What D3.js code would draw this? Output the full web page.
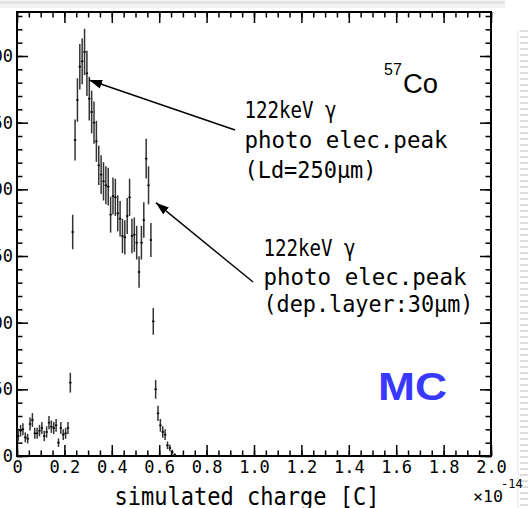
<!DOCTYPE html>
<html>
<head>
<meta charset="utf-8">
<script src="https://cdn.jsdelivr.net/npm/d3@7"></script>
<style>
  body { margin: 0; background: #fff; }
  svg { display: block; }
  .mono { font-family: "DejaVu Sans Mono", monospace; }
  .sans { font-family: "Liberation Sans", Arial, sans-serif; }
</style>
</head>
<body>
<div id="chart"></div>
<script>
// histogram contents, bins of 0.01 (x10^-14 C) starting at 0
const binWidth = 0.01;
const counts = [
  15, 19, 20, 14, 13, 24, 27, 17, 17, 19,
  21, 15, 18, 25, 22, 21, 23, 10, 21, 16,
  17, 21, 55, 168, 237, 267, 292, 296, 303, 287,
  268, 258, 250, 236, 218, 211, 206, 203, 202, 181,
  195, 194, 182, 178, 165, 164, 180, 194, 165, 166,
  160, 138, 160, 177, 223, 203, 162, 101, 50, 32,
  23, 18, 16, 8, 6, 3, 1
];

const xTickValues = [0, 0.2, 0.4, 0.6, 0.8, 1.0, 1.2, 1.4, 1.6, 1.8, 2.0];
const xTickLabels = ["0", "0.2", "0.4", "0.6", "0.8", "1.0", "1.2", "1.4", "1.6", "1.8", "2.0"];
const yTickValues = [0, 50, 100, 150, 200, 250, 300];
const yTickLabels = ["0", "50", "100", "150", "200", "250", "300"];

const width = 528;
const height = 508;

const x = d3.scaleLinear().domain([0, 2.0]).range([17, 491]);
const y = d3.scaleLinear().domain([0, 333]).range([456, 12]);

const svg = d3.select("#chart")
  .append("svg")
  .attr("width", width)
  .attr("height", height);

// slide edges seen around the picture
svg.append("rect").attr("x", 0).attr("y", 0).attr("width", 505).attr("height", 8).attr("fill", "#f2f2f2");
svg.append("line").attr("x1", 0).attr("x2", 505).attr("y1", 2.5).attr("y2", 2.5)
  .attr("stroke", "#dcdcdc").attr("stroke-width", 2);
svg.append("line").attr("x1", 518).attr("x2", 518).attr("y1", 30).attr("y2", 508)
  .attr("stroke", "#e6e6e6").attr("stroke-width", 1);
svg.append("line").attr("x1", 524).attr("x2", 524).attr("y1", 30).attr("y2", 508)
  .attr("stroke", "#dedede").attr("stroke-width", 8).attr("stroke-dasharray", "2,4");

// ticks on all four sides
const xMinor = d3.range(0, 2.0001, 0.05);
const yMinor = d3.range(0, 333, 10);

function tickAxis(axis, tf, size) {
  const g = svg.append("g").attr("transform", tf).call(axis.tickSize(size).tickFormat("").tickSizeOuter(0));
  g.select(".domain").remove();
  g.selectAll("line").attr("stroke", "#000").attr("stroke-width", 1.5);
  return g;
}
tickAxis(d3.axisTop(x).tickValues(xTickValues), `translate(0,${y(0)})`, 11);
tickAxis(d3.axisTop(x).tickValues(xMinor), `translate(0,${y(0)})`, 5.5);
tickAxis(d3.axisBottom(x).tickValues(xTickValues), `translate(0,${y.range()[1]})`, 11);
tickAxis(d3.axisBottom(x).tickValues(xMinor), `translate(0,${y.range()[1]})`, 5.5);
tickAxis(d3.axisRight(y).tickValues(yTickValues), `translate(${x(0)},0)`, 11);
tickAxis(d3.axisRight(y).tickValues(yMinor), `translate(${x(0)},0)`, 5.5);
tickAxis(d3.axisLeft(y).tickValues(yTickValues), `translate(${x(2.0)},0)`, 11);
tickAxis(d3.axisLeft(y).tickValues(yMinor), `translate(${x(2.0)},0)`, 5.5);

// tick labels (the left ones are cut by the picture edge, as in the original)
const xLab = svg.append("g")
  .attr("transform", `translate(0,${y(0)})`)
  .call(d3.axisBottom(x).tickValues(xTickValues).tickSize(0).tickPadding(5)
    .tickFormat((d, i) => xTickLabels[i]));
xLab.select(".domain").remove();
xLab.selectAll("text").attr("class", "mono").style("font-size", "17px").attr("fill", "#000");

const yLab = svg.append("g")
  .attr("transform", `translate(${x(0)},0)`)
  .call(d3.axisLeft(y).tickValues(yTickValues).tickSize(0).tickPadding(4)
    .tickFormat((d, i) => yTickLabels[i]));
yLab.select(".domain").remove();
yLab.selectAll("text").attr("class", "mono").style("font-size", "17px").attr("fill", "#000");

// frame
svg.append("rect")
  .attr("x", x(0)).attr("y", y.range()[1])
  .attr("width", x(2.0) - x(0)).attr("height", y(0) - y.range()[1])
  .attr("fill", "none").attr("stroke", "#000").attr("stroke-width", 2);

// error bars
const bins = counts.map((c, i) => ({ lo: i * binWidth, hi: (i + 1) * binWidth, c: c, e: Math.sqrt(c) }));
const pts = svg.append("g");
pts.selectAll(".ebar")
  .data(bins)
  .enter()
  .append("line")
  .attr("class", "ebar")
  .attr("x1", d => x((d.lo + d.hi) / 2))
  .attr("x2", d => x((d.lo + d.hi) / 2))
  .attr("y1", d => y(Math.max(0, d.c - d.e)))
  .attr("y2", d => y(d.c + d.e))
  .attr("stroke", "#333")
  .attr("stroke-width", 1.5);
pts.selectAll(".hbar")
  .data(bins)
  .enter()
  .append("line")
  .attr("class", "hbar")
  .attr("x1", d => x(d.lo))
  .attr("x2", d => x(d.hi))
  .attr("y1", d => y(d.c))
  .attr("y2", d => y(d.c))
  .attr("stroke", "#000")
  .attr("stroke-width", 1.5);

// axis title and exponent
svg.append("text")
  .attr("class", "mono")
  .attr("x", 247).attr("y", 505)
  .attr("text-anchor", "middle")
  .attr("textLength", 265).attr("lengthAdjust", "spacingAndGlyphs")
  .style("font-size", "25px")
  .text("simulated charge [C]");
svg.append("text")
  .attr("class", "mono")
  .attr("x", 473).attr("y", 502)
  .attr("textLength", 30).attr("lengthAdjust", "spacingAndGlyphs")
  .style("font-size", "16px")
  .text("\u00d710");
svg.append("text")
  .attr("class", "mono")
  .attr("x", 501).attr("y", 488)
  .style("font-size", "12px")
  .text("-14");

// labels
svg.append("text").attr("class", "sans")
  .attr("x", x(1.549)).attr("y", y(285.75))
  .style("font-size", "16px").text("57");
svg.append("text").attr("class", "sans")
  .attr("x", x(1.629)).attr("y", y(272.25))
  .attr("textLength", 35).attr("lengthAdjust", "spacingAndGlyphs")
  .style("font-size", "27px").text("Co");

svg.append("text").attr("class", "sans")
  .attr("x", x(1.523)).attr("y", y(42))
  .attr("textLength", 69).attr("lengthAdjust", "spacingAndGlyphs")
  .style("font-size", "39px").style("font-weight", "bold")
  .attr("fill", "#3838ff").text("MC");

const notes = [
  { x: 0.96, ys: [253.5, 231, 208.5], lines: ["122keV \u03b3", "photo elec.peak", "(Ld=250\u03bcm)"], widths: [92, 203, 132] },
  { x: 1.04, ys: [150, 128.25, 108], lines: ["122keV \u03b3", "photo elec.peak", "(dep.layer:30\u03bcm)"], widths: [92, 203, 210] }
];
notes.forEach(n => {
  n.lines.forEach((t, i) => {
    svg.append("text").attr("class", "mono")
      .attr("x", x(n.x)).attr("y", y(n.ys[i]))
      .attr("textLength", n.widths[i]).attr("lengthAdjust", "spacingAndGlyphs")
      .style("font-size", "23px").text(t);
  });
});

// arrows
svg.append("defs").append("marker")
  .attr("id", "head")
  .attr("markerUnits", "userSpaceOnUse")
  .attr("markerWidth", 14).attr("markerHeight", 10)
  .attr("refX", 13).attr("refY", 5)
  .attr("orient", "auto")
  .append("path")
  .attr("d", "M0,0.5L13,5L0,9.5Z")
  .attr("fill", "#000");

const arrows = [
  { from: [0.92, 244.5], to: [0.304, 282] },
  { from: [0.996, 130.5], to: [0.586, 190] }
];
svg.selectAll(".arrow")
  .data(arrows)
  .enter()
  .append("line")
  .attr("class", "arrow")
  .attr("x1", d => x(d.from[0])).attr("y1", d => y(d.from[1]))
  .attr("x2", d => x(d.to[0])).attr("y2", d => y(d.to[1]))
  .attr("stroke", "#000").attr("stroke-width", 1.4)
  .attr("marker-end", "url(#head)");
</script>
</body>
</html>
